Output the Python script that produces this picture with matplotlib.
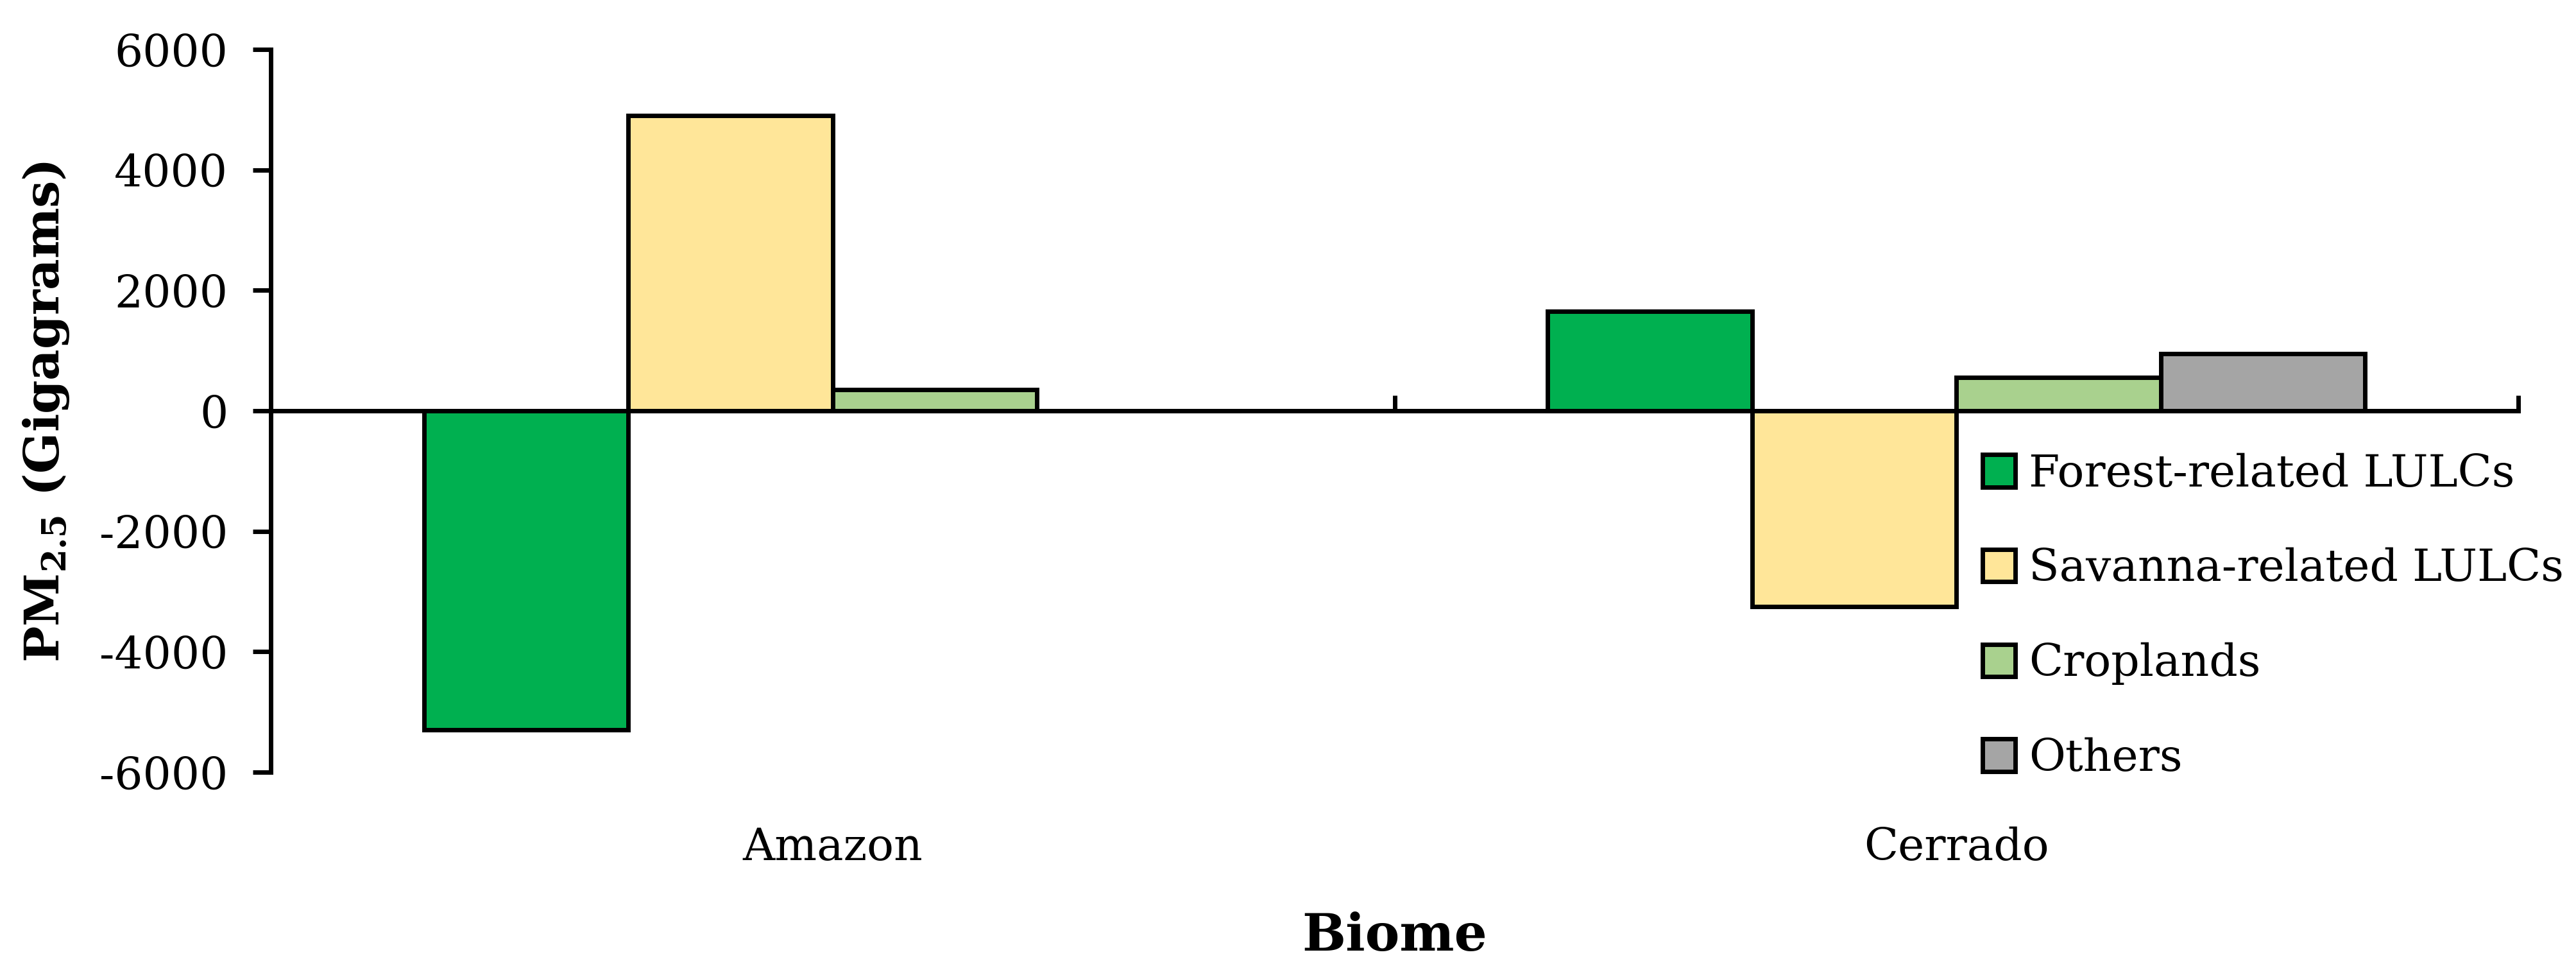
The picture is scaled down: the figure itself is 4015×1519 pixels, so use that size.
import matplotlib
matplotlib.use("Agg")
import matplotlib.pyplot as plt
import matplotlib.transforms as mtransforms
import numpy as np

plt.rcParams['font.family'] = ['DejaVu Serif']
plt.rcParams['mathtext.fontset'] = 'dejavuserif'

biomes = ["Amazon", "Cerrado"]
series = ["Forest-related LULCs", "Savanna-related LULCs", "Croplands", "Others"]
forest = [-5300, 1650]
savanna = [4900, -3250]
croplands = [350, 550]
others = [0, 950]
colors = ["#00B050", "#FFE699", "#A9D18E", "#A5A5A5"]
yticks = [-6000, -4000, -2000, 0, 2000, 4000, 6000]

W, H = 4015, 1519
fig = plt.figure(figsize=(W / 100, H / 100), dpi=100)
ax = fig.add_axes([422 / W, 1 - 1203 / H, (3925 - 422) / W, (1203 - 77) / H])

fs = 50
lw = 5
x = np.arange(len(biomes))
bw = 1 / (4 + 1.5)
for i, (vals, c, name) in enumerate(zip([forest, savanna, croplands, others], colors, series)):
    ax.bar(x + (i - 1.5) * bw, vals, width=bw, color=c, edgecolor='black',
           linewidth=lw, label=name, zorder=2)

ax.set_xlim(-0.5, 1.5)
ax.set_ylim(-6000, 6000)
ax.set_yticks(yticks)
ax.set_yticklabels([str(v) for v in yticks], fontsize=fs)
ax.tick_params(axis='y', direction='out', length=20, width=lw, pad=28)

for s in ['top', 'right']:
    ax.spines[s].set_visible(False)
ax.spines['left'].set_linewidth(lw)
ax.spines['bottom'].set_linewidth(lw)
ax.spines['bottom'].set_position(('data', 0))
ax.spines['bottom'].set_zorder(3)

ax.set_xticks([0.5, 1.5])
ax.set_xticklabels([])
ax.tick_params(axis='x', direction='in', length=17, width=lw)

trans = mtransforms.blended_transform_factory(ax.transData, fig.transFigure)
for xi, name in zip(x, biomes):
    ax.text(xi, 1 - 1321 / H, name, transform=trans, ha='center', va='center', fontsize=fs)

fig.text((422 + 3925) / 2 / W, 1 - 1459 / H, "Biome", ha='center', va='center',
         fontsize=58, fontweight='bold')
fig.text(72 / W, 1 - 642 / H, r"PM$_{\mathbf{2.5}}$ (Gigagrams)", rotation=90,
         ha='center', va='center', fontsize=54, fontweight='bold')

leg = ax.legend(loc='center left', bbox_to_anchor=(3090 / W, 1 - 960 / H),
                bbox_transform=fig.transFigure, frameon=False, fontsize=fs,
                handlelength=0.74, handleheight=0.74, handletextpad=0.3,
                labelspacing=1.17, borderpad=0, borderaxespad=0)
for h in leg.legend_handles:
    h.set_linewidth(lw)

fig.savefig("out.png", dpi=100, facecolor='white')
